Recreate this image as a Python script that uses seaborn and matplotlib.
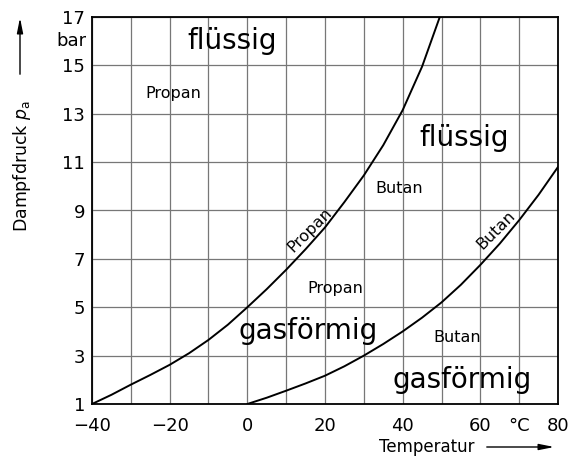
import pandas as pd
import numpy as np
from matplotlib import pyplot as plt
import seaborn as sns

# Dampfdruck-Kurven
temp_propan = [-40, -35, -30, -25, -20, -15, -10, -5, 0, 5, 10, 15, 20, 25, 30, 35, 40, 45, 50]
druck_propan = [1.0, 1.38, 1.8, 2.2, 2.62, 3.1, 3.65, 4.28, 5.0, 5.75, 6.55, 7.4, 8.3, 9.35, 10.45, 11.7, 13.15, 14.95, 17.2]

temp_butan = [0, 5, 10, 15, 20, 25, 30, 35, 40, 45, 50, 55, 60, 65, 70, 75, 80]
druck_butan = [1.0, 1.26, 1.55, 1.85, 2.17, 2.56, 3.0, 3.48, 4.0, 4.57, 5.2, 5.93, 6.75, 7.63, 8.6, 9.65, 10.8]

x_ticks = [-40, -30, -20, -10, 0, 10, 20, 30, 40, 50, 60, 70, 80]
x_labels = ['\u221240', '', '\u221220', '', '0', '', '20', '', '40', '', '60', '\u00b0C', '80']
y_ticks = [1, 3, 5, 7, 9, 11, 13, 15, 17]

# Beschriftungen im Diagramm: text, x, y, groesse, drehung
beschriftungen = [
    ('flüssig', -4, 16.0, 20, 0),
    ('Propan', -19, 13.85, 11.5, 0),
    ('flüssig', 55.7, 12.0, 20, 0),
    ('Butan', 39, 9.93, 11.5, 0),
    ('Propan', 16.2, 8.2, 11.5, 45),
    ('Propan', 22.7, 5.77, 11.5, 0),
    ('gasförmig', 15.7, 4.0, 20, 0),
    ('Butan', 54.1, 3.77, 11.5, 0),
    ('Butan', 64.0, 8.2, 11.5, 45),
    ('gasförmig', 55.3, 2.0, 20, 0),
]

df = pd.concat([
    pd.DataFrame({'T': temp_propan, 'p': druck_propan, 'Gas': 'Propan'}),
    pd.DataFrame({'T': temp_butan, 'p': druck_butan, 'Gas': 'Butan'}),
])

sns.set_style('white')
plt.rcParams['font.family'] = ['DejaVu Sans']
plt.rcParams['text.color'] = 'k'
plt.rcParams['xtick.color'] = 'k'
plt.rcParams['ytick.color'] = 'k'

fig = plt.figure(figsize=(5.73, 4.61), dpi=100)
ax = fig.add_axes([92 / 573, 1 - 404 / 461, 466 / 573, 387 / 461])

sns.lineplot(data=df, x='T', y='p', hue='Gas', palette={'Propan': 'k', 'Butan': 'k'},
             linewidth=1.4, legend=False, ax=ax, sort=False)

ax.set_xlim(-40, 80)
ax.set_ylim(1, 17)
ax.set_xticks(x_ticks)
ax.set_xticklabels(x_labels)
ax.set_yticks(y_ticks)
ax.tick_params(length=0, labelsize=13)
ax.tick_params(axis='x', pad=9)
ax.tick_params(axis='y', pad=5)
ax.grid(True, color='#777777', linewidth=0.9)
ax.set_axisbelow(True)
for s in ax.spines.values():
    s.set_color('k')
    s.set_linewidth(1.3)
ax.set_xlabel('')
ax.set_ylabel('')

for txt, x, y, size, rot in beschriftungen:
    ax.text(x, y, txt, fontsize=size, rotation=rot, ha='center', va='center',
            rotation_mode='anchor', color='k')

# Einheit bar
ax.text(-41.5, 16.0, 'bar', fontsize=13, ha='right', va='center', color='k')

# Achsenbeschriftungen mit Pfeilen
fig.text(22 / 573, 1 - 166 / 461, 'Dampfdruck $p_\\mathrm{a}$', rotation=90,
         ha='center', va='center', fontsize=12.5, color='k')
ax.annotate('', xy=(20, 446), xytext=(20, 384), xycoords='figure pixels',
            textcoords='figure pixels',
            arrowprops=dict(arrowstyle='-|>,head_length=0.9,head_width=0.18',
                            color='k', lw=1))
fig.text(427 / 573, 1 - 447 / 461, 'Temperatur', ha='center', va='center',
         fontsize=12, color='k')
ax.annotate('', xy=(557, 14), xytext=(484, 14), xycoords='figure pixels',
            textcoords='figure pixels',
            arrowprops=dict(arrowstyle='-|>,head_length=0.9,head_width=0.18',
                            color='k', lw=1))

plt.savefig('out.png', dpi=100)
